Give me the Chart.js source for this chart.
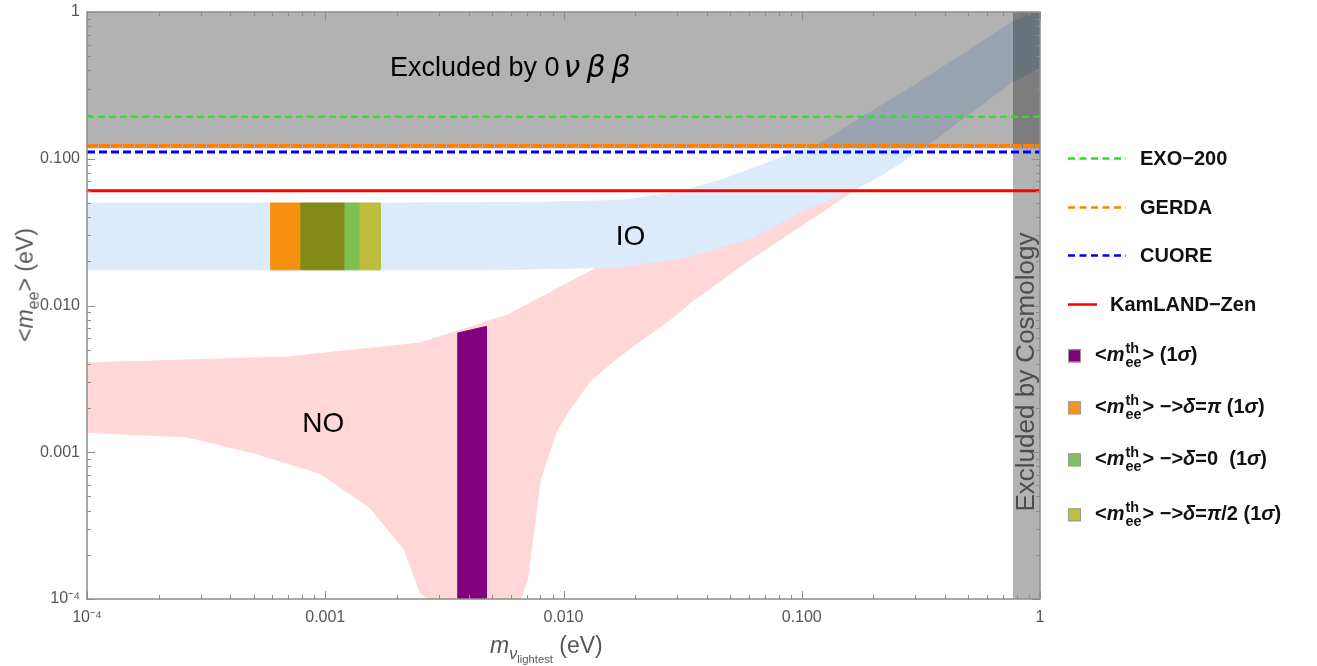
<!DOCTYPE html>
<html>
<head>
<meta charset="utf-8">
<script src="https://cdn.jsdelivr.net/npm/chart.js@4.4.1/dist/chart.umd.min.js"></script>
<style>
  body { margin: 0; background: #fff; font-family: "Liberation Sans", Arial, sans-serif; }
  #wrap { position: relative; width: 1317px; height: 666px; overflow: hidden; }
  #chart { position: absolute; left: 0; top: 0; }
  .lbl { position: absolute; white-space: nowrap; }
  .axt { color: #555; font-size: 23px; }
  .axt sub { font-size: 70%; }
  .leg { position: absolute; white-space: nowrap; font-weight: bold; font-size: 20px; color: #111;
         transform: translateY(-50%); display: flex; align-items: center; }
  .ss { display: inline-flex; flex-direction: column; vertical-align: middle; font-size: 0.72em;
        line-height: 0.95; margin-left: 1px; margin-right: 1px; }
  .sq { width: 11px; height: 11px; border: 1px solid #999; display: inline-block; }
</style>
</head>
<body>
<div id="wrap">
  <canvas id="chart" width="1317" height="666"></canvas>
  <div class="lbl axt" style="left:490px; top:632px;"><i>m</i><sub><i>ν</i><sub>lightest</sub></sub> (eV)</div>
  <div class="lbl axt" style="left:27px; top:285px; transform: translate(-50%, -50%) rotate(-90deg);">&lt;<i>m</i><sub>ee</sub>&gt; (eV)</div>
  <div id="legend"></div>
</div>
<script>
// 軸の目盛り
const xTicks = [1e-4, 1e-3, 1e-2, 1e-1, 1];
const xTickLabels = ['10⁻⁴', '0.001', '0.010', '0.100', '1'];
const yTicks = [1e-4, 1e-3, 1e-2, 1e-1, 1];
const yTickLabels = ['10⁻⁴', '0.001', '0.010', '0.100', '1'];

// IO バンドの上下端
const ioTopX = [1e-4, 0.002, 0.008, 0.0174, 0.03, 0.0457, 0.0925, 0.112, 0.3, 0.755, 1];
const ioTopY = [0.0499, 0.0499, 0.0505, 0.052, 0.059, 0.0716, 0.109, 0.12, 0.32, 0.84, 1.05];
const ioBotX = [1e-4, 0.005, 0.0174, 0.0332, 0.0628, 0.102, 0.165, 0.215, 0.316, 0.755, 1];
const ioBotY = [0.0175, 0.0175, 0.0183, 0.0214, 0.0293, 0.0448, 0.0612, 0.077, 0.115, 0.33, 0.42];

// NO バンドの上下端
const noTopX = [1e-4, 0.00069, 0.0025, 0.00582, 0.011, 0.0174, 0.05, 0.2, 1];
const noTopY = [0.00406, 0.00446, 0.00555, 0.0086, 0.0149, 0.022, 0.04, 0.12, 0.6];
const noBotX = [1e-4, 0.000263, 0.0005, 0.00095, 0.00154, 0.00215, 0.0025, 0.0027,
                0.0066, 0.00706, 0.008, 0.0094, 0.0104, 0.013, 0.0179, 0.029, 0.0352,
                0.0628, 0.12, 0.165, 0.215, 0.316, 0.755, 1];
const noBotY = [0.00137, 0.00127, 0.00099, 0.00072, 0.00042, 0.000216, 0.00011, 1e-4,
                1e-4, 0.000135, 0.00065, 0.00142, 0.00185, 0.0031, 0.00474, 0.00835, 0.0109,
                0.0214, 0.0427, 0.0612, 0.077, 0.115, 0.33, 0.42];

// <m_ee^th> (1σ) の帯
const thBarX = [0.0036, 0.00474];
const thBarTop = [0.0065, 0.0072];

// δ ごとの領域
const deltaColors = ['#f5900f', '#808a14', '#7ec050', '#bebe3c'];
const deltaXMin = [0.00059, 0.00079, 0.00121, 0.0014];
const deltaXMax = [0.00079, 0.00121, 0.0014, 0.0017];
const deltaYRange = [0.0175, 0.0499];

// 実験の上限
const limitNames = ['EXO−200', 'GERDA', 'CUORE', 'KamLAND−Zen'];
const limitValues = [0.193, 0.122, 0.111, 0.0606];
const limitColors = ['#22e622', '#ff8000', '#0000ff', '#ff0000'];
const limitDash = [[7, 4], [11, 1], [8, 4], []];
const limitWidth = [2, 4, 3, 3];

// 除外領域
const excludedY = [0.118, 1];
const cosmoX = [0.77, 1];

const X_MIN = 1e-4, X_MAX = 1, Y_MIN = 1e-4, Y_MAX = 1;

function pts(xs, ys) {
    return xs.map((x, i) => ({ x: x, y: ys[i] }));
}

function band(topX, topY, botX, botY) {
    const top = pts(topX, topY);
    const bot = pts(botX, botY).reverse();
    return [...top, ...bot, top[0]];
}

function rect(x0, x1, y0, y1) {
    return [{ x: x0, y: y0 }, { x: x0, y: y1 }, { x: x1, y: y1 }, { x: x1, y: y0 }, { x: x0, y: y0 }];
}

function shape(data, color, order, stroke) {
    return {
        data: data,
        showLine: true,
        fill: 'shape',
        backgroundColor: color,
        borderColor: stroke ? color : 'rgba(0,0,0,0)',
        borderWidth: 1,
        pointRadius: 0,
        tension: 0,
        order: order
    };
}

const datasets = [];
datasets.push(shape(band(noTopX, noTopY, noBotX, noBotY), '#ffd7d7', 20, true));
datasets.push(shape(band(ioTopX, ioTopY, ioBotX, ioBotY), '#dcebfc', 19, true));
datasets.push(shape([
    { x: thBarX[0], y: Y_MIN }, { x: thBarX[0], y: thBarTop[0] },
    { x: thBarX[1], y: thBarTop[1] }, { x: thBarX[1], y: Y_MIN }, { x: thBarX[0], y: Y_MIN }
], '#800080', 18, true));
deltaColors.forEach((c, i) => {
    datasets.push(shape(rect(deltaXMin[i], deltaXMax[i], deltaYRange[0], deltaYRange[1]), c, 17 - i, true));
});
datasets.push(shape(rect(X_MIN, X_MAX, excludedY[0], excludedY[1]), 'rgba(0,0,0,0.3)', 10, false));
datasets.push(shape(rect(cosmoX[0], cosmoX[1], Y_MIN, Y_MAX), 'rgba(0,0,0,0.3)', 9, false));
limitValues.forEach((v, i) => {
    datasets.push({
        data: [{ x: X_MIN, y: v }, { x: X_MAX, y: v }],
        showLine: true,
        fill: false,
        borderColor: limitColors[i],
        borderWidth: limitWidth[i],
        borderDash: limitDash[i],
        pointRadius: 0,
        order: 5 - i
    });
});

// 枠・目盛り・注記
const framePlugin = {
    id: 'frame',
    afterDatasetsDraw(chart) {
        const { ctx, chartArea: a, scales: { x, y } } = chart;
        ctx.save();
        ctx.strokeStyle = '#8c8c8c';
        ctx.lineWidth = 1;
        for (let d = -4; d <= 0; d++) {
            for (let k = 1; k <= 9; k++) {
                const v = k * Math.pow(10, d);
                if (v > 1.0001) break;
                const len = k === 1 ? 8 : 4;
                const px = Math.round(x.getPixelForValue(v)) + 0.5;
                const py = Math.round(y.getPixelForValue(v)) + 0.5;
                ctx.beginPath();
                ctx.moveTo(px, a.bottom); ctx.lineTo(px, a.bottom - len);
                ctx.moveTo(px, a.top); ctx.lineTo(px, a.top + len);
                ctx.moveTo(a.left, py); ctx.lineTo(a.left + len, py);
                ctx.moveTo(a.right, py); ctx.lineTo(a.right - len, py);
                ctx.stroke();
            }
        }
        ctx.lineWidth = 1.5;
        ctx.strokeRect(a.left, a.top, a.right - a.left, a.bottom - a.top);

        // 注記テキスト
        ctx.fillStyle = '#000';
        ctx.textBaseline = 'middle';
        ctx.textAlign = 'left';
        ctx.font = '27px "Liberation Sans", Arial, sans-serif';
        const ex = x.getPixelForValue(0.00187), ey = y.getPixelForValue(0.415);
        const t1 = 'Excluded by 0';
        ctx.fillText(t1, ex, ey);
        let cx = ex + ctx.measureText(t1).width + 4;
        ctx.font = 'italic 30px "DejaVu Sans", sans-serif';
        ['ν', 'β', 'β'].forEach(ch => {
            ctx.fillText(ch, cx, ey + 1);
            cx += ctx.measureText(ch).width + 6;
        });

        ctx.textAlign = 'center';
        ctx.font = '28px "Liberation Sans", Arial, sans-serif';
        ctx.fillText('IO', x.getPixelForValue(0.0191), y.getPixelForValue(0.0293));
        ctx.fillText('NO', x.getPixelForValue(0.00098), y.getPixelForValue(0.00156));

        ctx.save();
        ctx.translate(x.getPixelForValue(0.882), y.getPixelForValue(0.00352));
        ctx.rotate(-Math.PI / 2);
        ctx.fillStyle = '#4d4d4d';
        ctx.font = '26px "Liberation Sans", Arial, sans-serif';
        ctx.fillText('Excluded by Cosmology', 0, 0);
        ctx.restore();
        ctx.restore();
    }
};

new Chart(document.getElementById('chart'), {
    type: 'scatter',
    data: { datasets: datasets },
    options: {
        responsive: false,
        animation: false,
        layout: { padding: { top: 12, right: 277, left: 0, bottom: 0 } },
        plugins: { legend: { display: false }, tooltip: { enabled: false } },
        scales: {
            x: {
                type: 'logarithmic',
                min: X_MIN,
                max: X_MAX,
                afterBuildTicks: s => { s.ticks = xTicks.map(v => ({ value: v })); },
                afterFit: s => { s.height = 67; s.paddingLeft = 0; s.paddingRight = 0; },
                grid: { display: false, drawTicks: false },
                border: { display: false },
                ticks: {
                    autoSkip: false, maxRotation: 0, padding: 9,
                    color: '#555', font: { size: 16, family: '"Liberation Sans", Arial, sans-serif' },
                    callback: v => xTickLabels[xTicks.indexOf(v)]
                }
            },
            y: {
                type: 'logarithmic',
                min: Y_MIN,
                max: Y_MAX,
                afterBuildTicks: s => { s.ticks = yTicks.map(v => ({ value: v })); },
                afterFit: s => { s.width = 87; s.paddingTop = 0; s.paddingBottom = 0; },
                grid: { display: false, drawTicks: false },
                border: { display: false },
                ticks: {
                    autoSkip: false, padding: 7,
                    color: '#555', font: { size: 16, family: '"Liberation Sans", Arial, sans-serif' },
                    callback: v => yTickLabels[yTicks.indexOf(v)]
                }
            }
        }
    },
    plugins: [framePlugin]
});

// 凡例
const legendRowsY = [158, 207, 255, 304];
const thRowsY = [356, 408, 460, 515];
const thColors = ['#800080', '#f7931e', '#80c060', '#c0c040'];
const thSuffix = [' (1<i>σ</i>)', ' −&gt;<i>δ</i>=<i>π</i> (1<i>σ</i>)', ' −&gt;<i>δ</i>=0&nbsp; (1<i>σ</i>)', ' −&gt;<i>δ</i>=<i>π</i>/2 (1<i>σ</i>)'];
const mee = '&lt;<i>m</i><span class="ss"><span>th</span><span>ee</span></span>&gt;';

let html = '';
limitNames.forEach((name, i) => {
    const len = i === 3 ? 29 : 58;
    const textX = i === 3 ? 1110 : 1140;
    html += `<div class="leg" style="left:1068px; top:${legendRowsY[i]}px;">` +
        `<svg width="${len}" height="6"><line x1="0" y1="3" x2="${len}" y2="3" stroke="${limitColors[i]}" ` +
        `stroke-width="2.5" stroke-dasharray="${i === 3 ? 'none' : '7,4.5'}"/></svg>` +
        `<span style="margin-left:${textX - 1068 - len}px">${name}</span></div>`;
});
thColors.forEach((c, i) => {
    html += `<div class="leg" style="left:1068px; top:${thRowsY[i]}px;">` +
        `<span class="sq" style="background:${c}"></span>` +
        `<span style="margin-left:14px">${mee}${thSuffix[i]}</span></div>`;
});
document.getElementById('legend').innerHTML = html;
</script>
</body>
</html>
